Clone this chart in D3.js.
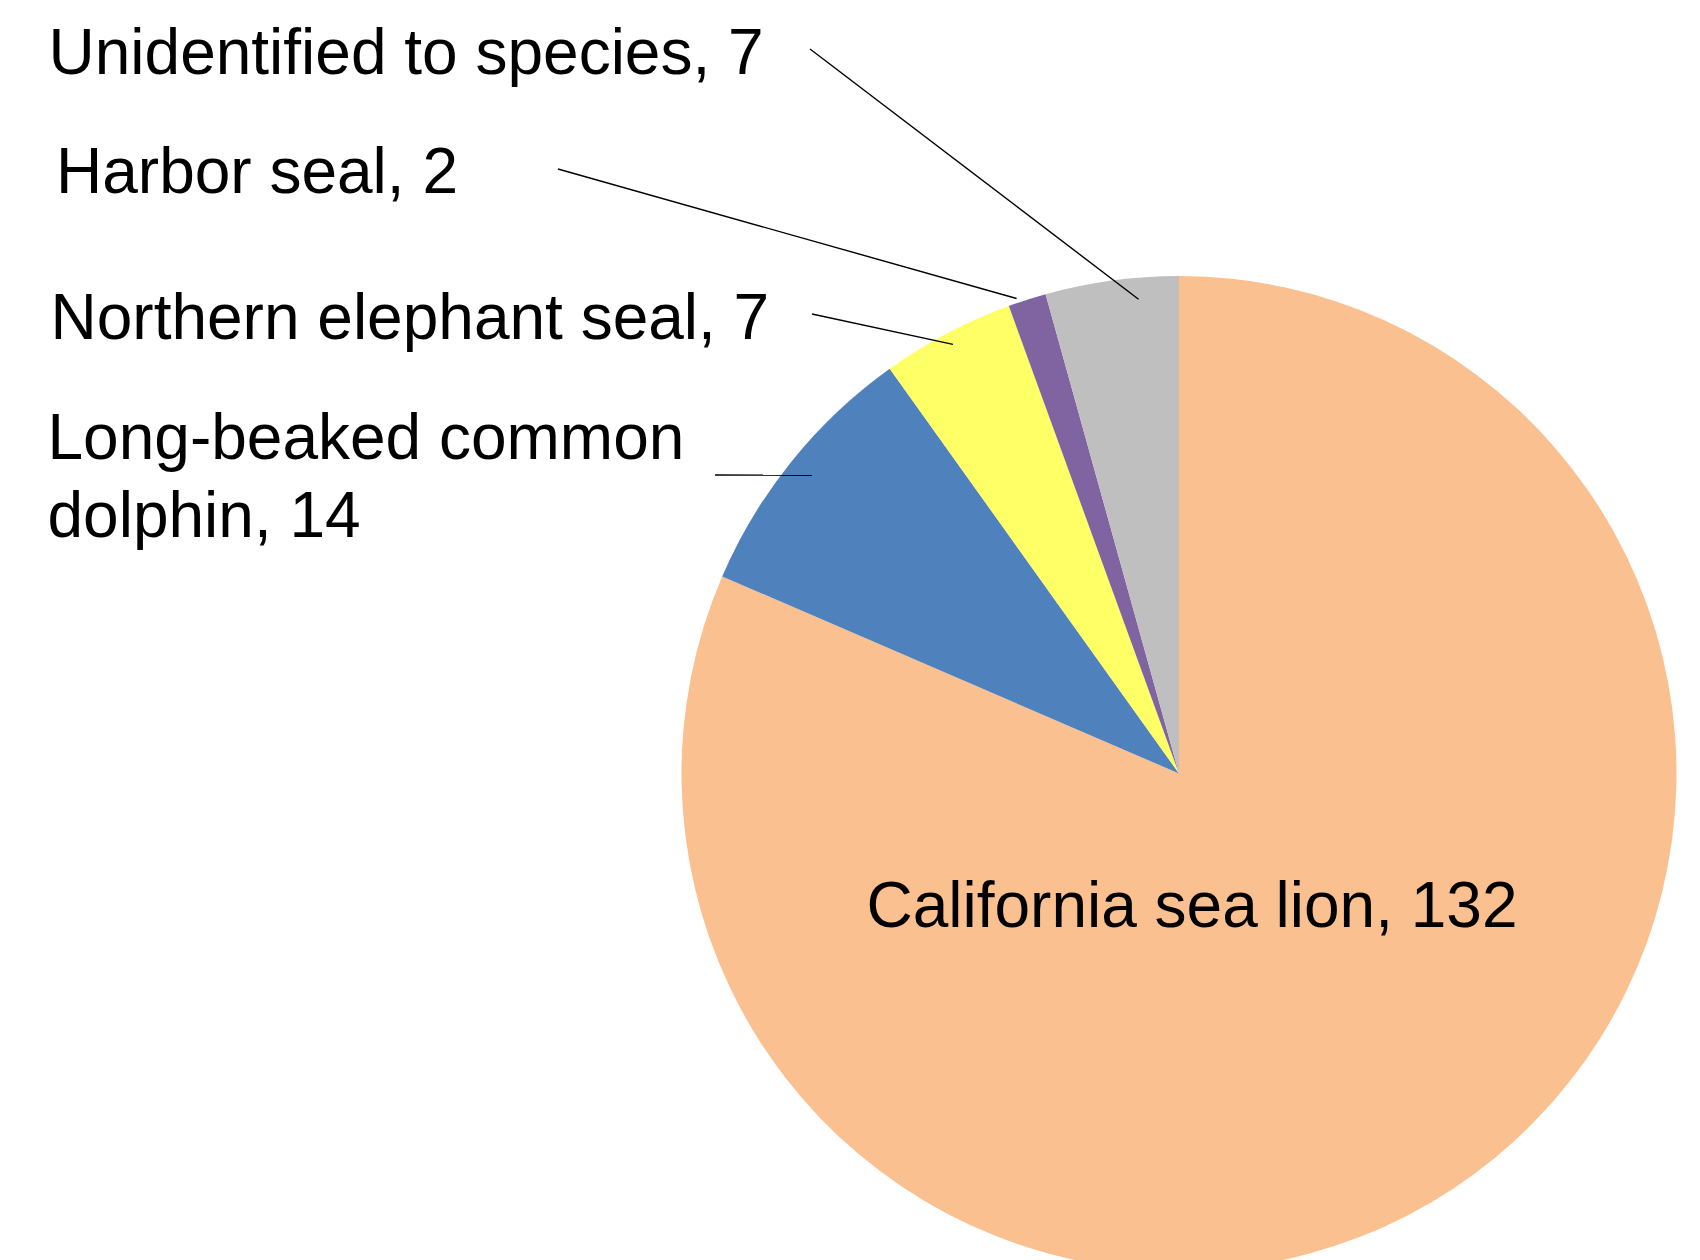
<!DOCTYPE html>
<html>
<head>
<meta charset="utf-8">
<script src="https://cdn.jsdelivr.net/npm/d3@7"></script>
<style>
  html, body { margin: 0; padding: 0; background: #fff; }
  text { font-family: "Liberation Sans", Arial, sans-serif; fill: #000; }
</style>
</head>
<body>
<div id="plot"></div>
<script>
// data
var species = ["California sea lion", "Long-beaked common dolphin", "Northern elephant seal", "Harbor seal", "Unidentified to species"];
var counts = [132, 14, 7, 2, 7];
var colors = ["#FAC090", "#4F81BD", "#FFFF66", "#8064A2", "#BFBFBF"];

// label placement (Excel style, labels dragged outside)
var labelPos = [
  {x: 13, y: 153.5, anchor: "middle", inside: true},
  {x: 47.5, y: 459, wrap: 640, lx: 715, ly: 475, r: 473, da: 0.2},
  {x: 50.5, y: 339, lx: 812, ly: 314, r: 485, da: 0},
  {x: 56, y: 193, lx: 558, ly: 169, r: 502, da: -1.1},
  {x: 48.5, y: 74, lx: 810, ly: 49, r: 476, da: 2.9}
];

var width = 1700, height = 1260;
var cx = 1179, cy = 773.5, radius = 497.5;
var fontSize = 64, lineHeight = 78;

var svg = d3.select("#plot").append("svg")
    .attr("width", width)
    .attr("height", height);

var table = species.map(function(s, i) {
  return {name: s, value: counts[i], color: colors[i], pos: labelPos[i]};
});

var pie = d3.pie().sort(null).value(function(d) { return d.value; });
var arc = d3.arc().innerRadius(0).outerRadius(radius);

var g = svg.append("g").attr("transform", "translate(" + cx + "," + cy + ")");

var arcs = pie(table);

g.selectAll(".slice")
  .data(arcs)
  .enter().append("path")
    .attr("class", "slice")
    .attr("d", arc)
    .style("fill", function(d) { return d.data.color; });

// leader lines
arcs.forEach(function(d) {
  var p = d.data.pos;
  if (p.inside) return;
  var mid = (d.startAngle + d.endAngle) / 2 + p.da * Math.PI / 180;
  var ex = p.r * Math.sin(mid), ey = -p.r * Math.cos(mid);
  g.append("line")
    .attr("x1", p.lx - cx)
    .attr("y1", p.ly - cy)
    .attr("x2", ex)
    .attr("y2", ey)
    .style("stroke", "#000")
    .style("stroke-width", 1.4);
});

// labels
arcs.forEach(function(d) {
  var p = d.data.pos;
  var txt = d.data.name + ", " + d.data.value;
  var t;
  if (p.inside) {
    t = g.append("text")
      .attr("x", p.x)
      .attr("y", p.y)
      .attr("text-anchor", p.anchor)
      .style("font-size", fontSize + "px")
      .text(txt);
    return;
  }
  t = svg.append("text")
    .attr("x", p.x)
    .attr("y", p.y)
    .style("font-size", fontSize + "px");
  if (!p.wrap) {
    t.text(txt);
    return;
  }
  // simple word wrap
  var words = txt.split(" "), line = [], n = 0;
  var tspan = t.append("tspan").attr("x", p.x).attr("y", p.y);
  words.forEach(function(w) {
    line.push(w);
    tspan.text(line.join(" "));
    if (tspan.node().getComputedTextLength() > p.wrap && line.length > 1) {
      line.pop();
      tspan.text(line.join(" "));
      line = [w];
      n++;
      tspan = t.append("tspan").attr("x", p.x).attr("y", p.y + n * lineHeight).text(w);
    }
  });
});
</script>
</body>
</html>
